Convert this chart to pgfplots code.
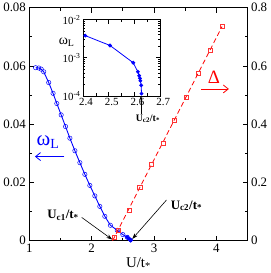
\documentclass[border=0pt]{standalone}
\usepackage{fontspec}
\setmainfont{Liberation Serif}
\usepackage{pgfplots}
\pgfplotsset{compat=1.18}
\usetikzlibrary{arrows.meta}

\pgfplotstableread{
U w
1.10 0.0594
1.15 0.0593
1.19 0.0589
1.23 0.0580
1.31 0.0543
1.38 0.0506
1.44 0.0471
1.51 0.0432
1.58 0.0392
1.65 0.0352
1.73 0.0309
1.81 0.0268
1.89 0.0228
1.97 0.0190
2.05 0.0154
2.13 0.0118
2.21 0.0084
2.30 0.0053
2.41 0.0036
2.50 0.0021
2.57 0.0012
}\wopen

\pgfplotstableread{
U w
2.409 0.0038
2.505 0.0021
2.595 0.00074
2.613 0.00043
2.618 0.00034
2.621 0.00029
2.623 0.00025
2.626 0.00019
2.627 0.000115
}\winset

\pgfplotstableread{
U D
2.36 0.012
2.42 0.035
2.60 0.104
2.77 0.183
2.96 0.262
3.15 0.336
3.32 0.413
3.51 0.492
3.71 0.576
3.90 0.655
4.09 0.735
}\deltatab

\begin{document}
\begin{tikzpicture}
\pgfplotsset{
  myax/.style={
    scale only axis, width=220pt, height=235pt,
    xmin=1, xmax=4.5,
    tick align=inside,
    major tick length=5pt, minor tick length=3pt,
    tick style={black, line width=0.8pt},
    axis line style={line width=0.9pt},
    ticklabel style={font=\fontsize{13}{13}\selectfont},
    /pgf/number format/assume math mode=true,
    scaled ticks=false,
    clip=false,
  }
}
\begin{axis}[myax,
  ymin=0, ymax=0.08,
  xtick={1,2,3,4}, xticklabels={1,2,3,4}, minor xtick={1.5,2.5,3.5},
  ytick={0,0.02,0.04,0.06,0.08}, yticklabels={0,0.02,0.04,0.06,0.08},
  minor ytick={0.01,0.03,0.05,0.07},
  ytick pos=left,
  xlabel={U/t\textsubscript{*}},
  xlabel style={font=\fontsize{15}{15}\selectfont, yshift=2pt},
]
\addplot[blue, line width=0.9pt, mark=o, mark size=2.2pt, mark options={line width=0.5pt}] table[x=U,y=w] {\wopen};
\addplot[blue, line width=0.9pt, mark=*, mark size=1.6pt] coordinates {(2.57,0.0012) (2.595,0.00074) (2.613,0.00043) (2.618,0.00034) (2.621,0.00029) (2.623,0.00025) (2.626,0.00019) (2.627,0.000115)};
\node[blue, font=\fontsize{21}{21}\selectfont] at (axis cs:1.30,0.0340) {ω\textsubscript{\fontsize{14}{14}\selectfont L}};
\draw[blue, line width=0.8pt, -{Straight Barb[length=5pt,width=8pt]}] (axis cs:1.56,0.0289) -- (axis cs:1.09,0.0289);
\node[red, font=\fontsize{19}{19}\selectfont] at (axis cs:3.96,0.0560) {Δ};
\draw[red, line width=0.8pt, -{Straight Barb[length=5pt,width=8pt]}] (axis cs:3.76,0.0521) -- (axis cs:4.20,0.0521);
\node[font=\bfseries\fontsize{13}{13}\selectfont] at (axis cs:1.54,0.0088) {U\textsubscript{c1}/t\textsubscript{*}};
\draw[black, line width=0.6pt, -{Stealth[length=6pt,width=4pt]}] (axis cs:1.84,0.0080) -- (axis cs:2.33,0.0004);
\node[font=\bfseries\fontsize{13}{13}\selectfont] at (axis cs:3.52,0.0120) {U\textsubscript{c2}/t\textsubscript{*}};
\draw[black, line width=0.6pt, -{Stealth[length=6pt,width=4pt]}] (axis cs:3.20,0.0140) -- (axis cs:2.65,0.0006);
\end{axis}

\begin{axis}[myax,
  ymin=0, ymax=0.8,
  axis x line=none, axis y line*=right,
  ytick={0,0.2,0.4,0.6,0.8}, yticklabels={0,0.2,0.4,0.6,0.8},
  minor ytick={0.1,0.3,0.5,0.7},
]
\addplot[red, line width=0.8pt, dash pattern=on 5pt off 3pt, no marks] coordinates {(2.335,0) (4.09,0.735)};
\addplot[red!80, only marks, mark=square, mark size=2.1pt, mark options={line width=0.5pt, solid}] table[x=U,y=D] {\deltatab};
\end{axis}

\begin{axis}[
  at={(54pt,223pt)}, anchor=north west,
  scale only axis, width=78pt, height=77pt,
  xmin=2.4, xmax=2.7, ymode=log, ymin=1e-4, ymax=1e-2,
  xtick={2.4,2.5,2.6,2.7}, xticklabels={2.4,2.5,2.6,2.7}, minor xtick={2.45,2.55,2.65},
  ytick={1e-4,1e-3,1e-2}, yticklabels={10\textsuperscript{-4},10\textsuperscript{-3},10\textsuperscript{-2}},
  tick align=inside, major tick length=4pt, minor tick length=2.5pt,
  tick style={black, line width=0.6pt},
  axis line style={line width=0.8pt},
  ticklabel style={font=\fontsize{11}{11}\selectfont},
  xticklabel style={yshift=1pt, xshift=3pt},
  yticklabel style={xshift=1pt},
  axis background/.style={fill=white},
  clip=false,
]
\addplot[blue, line width=0.8pt, mark=*, mark size=1.5pt] table[x=U,y=w] {\winset};
\node[font=\fontsize{14}{14}\selectfont] at (rel axis cs:-0.21,0.70) {ω\textsubscript{\fontsize{10}{10}\selectfont L}};
\draw[black, line width=0.6pt, -{Stealth[length=4pt,width=3pt]}] ([yshift=-18pt]axis cs:2.625,1e-4) -- (axis cs:2.625,1e-4);
\node[font=\bfseries\fontsize{10}{10}\selectfont] at ([yshift=-23pt,xshift=7pt]axis cs:2.625,1e-4) {U\textsubscript{c2}/t\textsubscript{*}};
\end{axis}
\end{tikzpicture}
\end{document}
